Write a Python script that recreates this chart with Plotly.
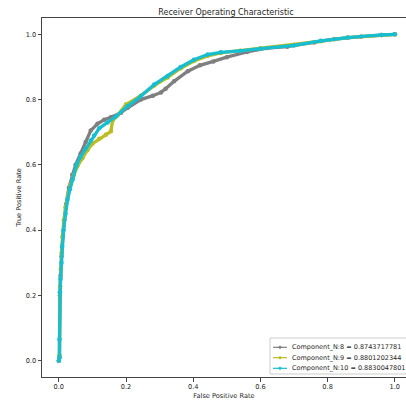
import plotly.graph_objects as go

# ---- data ----
labels = ["Component_N:8 = 0.8743717781",
          "Component_N:9 = 0.8801202344",
          "Component_N:10 = 0.8830047801"]
colors = ["#7f7f7f", "#bcbd22", "#17becf"]

fpr_n8 = [0, 0.002, 0.003, 0.005, 0.008, 0.012, 0.016, 0.022, 0.03, 0.04, 0.05, 0.065,
          0.08, 0.095, 0.115, 0.135, 0.155, 0.185, 0.205, 0.244, 0.28, 0.304, 0.318,
          0.343, 0.384, 0.42, 0.46, 0.50, 0.56, 0.62, 0.68, 0.76, 0.82, 0.90, 0.96, 1.0]
tpr_n8 = [0, 0.01, 0.2, 0.26, 0.32, 0.38, 0.43, 0.48, 0.53, 0.57, 0.6, 0.635,
          0.67, 0.705, 0.726, 0.738, 0.746, 0.76, 0.775, 0.80, 0.812, 0.822, 0.833,
          0.856, 0.887, 0.905, 0.917, 0.93, 0.946, 0.958, 0.962, 0.975, 0.985, 0.993, 0.998, 1.0]

fpr_n9 = [0, 0.002, 0.004, 0.006, 0.008, 0.011, 0.015, 0.02, 0.027, 0.035, 0.045, 0.055,
          0.07, 0.085, 0.1, 0.12, 0.14, 0.155, 0.16, 0.175, 0.2, 0.244, 0.284, 0.324,
          0.363, 0.402, 0.443, 0.482, 0.54, 0.60, 0.70, 0.78, 0.86, 0.96, 1.0]
tpr_n9 = [0, 0.017, 0.228, 0.28, 0.33, 0.38, 0.43, 0.47, 0.505, 0.54, 0.57, 0.595,
          0.62, 0.645, 0.665, 0.68, 0.692, 0.703, 0.735, 0.752, 0.785, 0.812, 0.843, 0.868,
          0.896, 0.918, 0.934, 0.943, 0.95, 0.957, 0.967, 0.979, 0.99, 0.998, 1.0]

fpr_n10 = [0, 0.002, 0.002, 0.003, 0.005, 0.008, 0.01, 0.014, 0.02, 0.026, 0.033, 0.041,
           0.053, 0.065, 0.08, 0.095, 0.105, 0.12, 0.145, 0.17, 0.205, 0.244, 0.284,
           0.324, 0.363, 0.402, 0.443, 0.482, 0.54, 0.60, 0.70, 0.78, 0.86, 0.96, 1.0]
tpr_n10 = [0, 0.01, 0.066, 0.21, 0.25, 0.3, 0.35, 0.4, 0.45, 0.493, 0.525, 0.555,
           0.6, 0.625, 0.65, 0.675, 0.69, 0.712, 0.73, 0.748, 0.78, 0.81, 0.846,
           0.872, 0.9, 0.922, 0.938, 0.945, 0.949, 0.956, 0.966, 0.98, 0.99, 0.998, 1.0]

series = [(fpr_n8, tpr_n8), (fpr_n9, tpr_n9), (fpr_n10, tpr_n10)]

x_ticks = [0.0, 0.2, 0.4, 0.6, 0.8, 1.0]
y_ticks = [0.0, 0.2, 0.4, 0.6, 0.8, 1.0]

# ---- layout geometry ----
W, H = 406, 400
ML, MR, MT, MB = 42, 0, 18, 23
PW, PH = W - ML - MR, H - MT - MB
FONT = "DejaVu Sans"
TXT = "#262626"


def px(xp):
    return (xp - ML) / PW


def py(yp):
    return (H - MB - yp) / PH


fig = go.Figure()
for (fx, ty), c, name in zip(series, colors, labels):
    fig.add_trace(go.Scatter(x=fx, y=ty, mode="lines+markers", name=name,
                             line=dict(color=c, width=3.3),
                             marker=dict(color=c, size=4.5),
                             showlegend=False))

# custom compact legend (matplotlib style)
shapes = [dict(type="rect", xref="paper", yref="paper",
               x0=px(270), x1=px(420), y0=py(374), y1=py(338),
               line=dict(color="#cccccc", width=1), fillcolor="rgba(255,255,255,0.8)")]
annotations = []
row_y = [347.3, 357.7, 368.3]
for yy, c, name in zip(row_y, colors, labels):
    shapes.append(dict(type="line", xref="paper", yref="paper",
                       x0=px(273), x1=px(287), y0=py(yy), y1=py(yy),
                       line=dict(color=c, width=1.2)))
    shapes.append(dict(type="circle", xref="paper", yref="paper",
                       x0=px(278.7), x1=px(281.3), y0=py(yy + 1.3), y1=py(yy - 1.3),
                       line=dict(color=c, width=0.5), fillcolor=c))
    annotations.append(dict(text=name, xref="paper", yref="paper",
                            x=px(290), y=py(yy), xanchor="left", yanchor="middle",
                            showarrow=False, font=dict(family=FONT, size=6.5, color=TXT)))

axis_common = dict(showline=True, linecolor="#444444", linewidth=1, mirror=True,
                   ticks="outside", ticklen=3.5, tickwidth=1, tickcolor="#444444",
                   showgrid=False, zeroline=False,
                   tickfont=dict(family=FONT, size=6.6, color=TXT))

fig.update_layout(
    width=W, height=H,
    margin=dict(l=ML, r=MR, t=MT, b=MB, pad=0),
    paper_bgcolor="white", plot_bgcolor="white",
    title=dict(text="Receiver Operating Characteristic", x=226 / W, xref="container",
               xanchor="center", y=1 - 12 / H, yref="container", yanchor="middle",
               font=dict(family=FONT, size=8, color=TXT)),
    xaxis=dict(range=[-0.05, (W - ML) / 336 - 0.05], tickvals=x_ticks,
               ticktext=[f"{v:.1f}" for v in x_ticks],
               title=dict(text="False Positive Rate", standoff=2,
                          font=dict(family=FONT, size=6.6, color=TXT)),
               automargin=False, **axis_common),
    yaxis=dict(range=[-0.05, 1.05], tickvals=y_ticks,
               ticktext=[f"{v:.1f}" for v in y_ticks],
               title=dict(text="True Positive Rate", standoff=3,
                          font=dict(family=FONT, size=6.6, color=TXT)),
               automargin=False, **axis_common),
    shapes=shapes, annotations=annotations,
)

fig.write_html("out.html", config={"displayModeBar": False},
               post_script="document.body.style.margin='0';document.body.style.overflow='hidden';")
